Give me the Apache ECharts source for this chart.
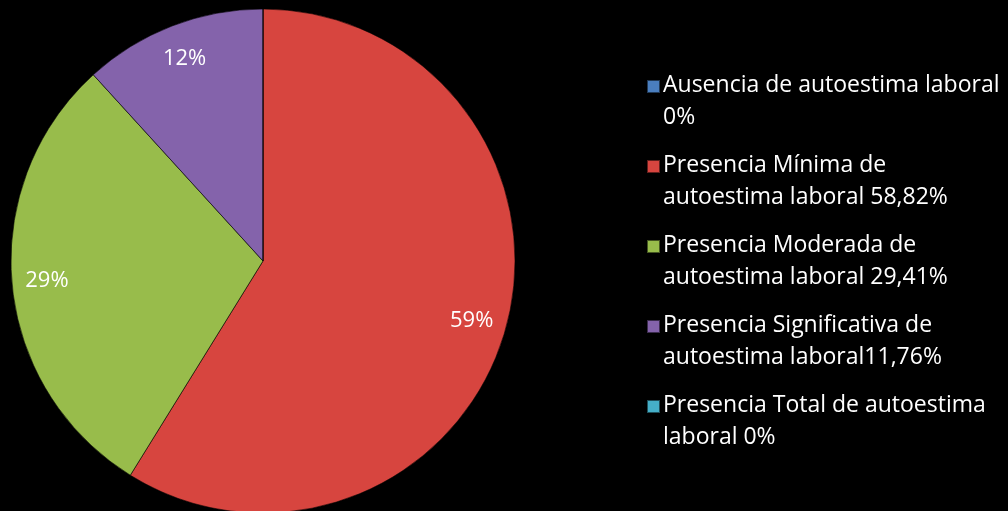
<!DOCTYPE html>
<html><head><meta charset="utf-8">
<script src="https://cdn.jsdelivr.net/npm/echarts@6/dist/echarts.min.js"></script>
<style>html,body{margin:0;padding:0;background:#000}#c{width:1008px;height:511px}</style>
</head><body><div id="c"></div>
<script>
const categories = [
  "Ausencia de autoestima laboral\n0%",
  "Presencia Mínima de\nautoestima laboral 58,82%",
  "Presencia Moderada de\nautoestima laboral 29,41%",
  "Presencia Significativa de\nautoestima laboral11,76%",
  "Presencia Total de autoestima\nlaboral 0%"
];
const values = [0, 58.82, 29.41, 11.76, 0];
const colors = ["#4A7EBF", "#D7453F", "#98BC4B", "#8463AB", "#45AFC8"];

const FONT = "Open Sans";
const data = categories.map((n, i) => ({ name: n, value: values[i], itemStyle: { color: colors[i] } }));
const labelData = categories.map((n, i) => ({ name: n, value: values[i] }));

const chart = echarts.init(document.getElementById('c'));
chart.setOption({
  backgroundColor: '#000',
  animation: false,
  legend: {
    orient: 'vertical',
    left: 641, top: 64,
    itemWidth: 13, itemHeight: 63, itemGap: 15,
    icon: 'path://M0,0L0.01,0 M0,10H13V23H0Z M0,63L0.01,63',
    textStyle: { color: '#fff', fontFamily: FONT, fontSize: 23, lineHeight: 31.5, padding: [0,0,0,-2] },
    data: categories
  },
  series: [
    {
      type: 'pie', center: [263, 261], radius: [0, 252], startAngle: 90,
      clockwise: true, silent: true,
      itemStyle: { borderColor: 'rgba(0,0,0,0.55)', borderWidth: 1 },
      label: { show: false }, labelLine: { show: false },
      data: data
    },
    {
      type: 'pie', center: [263, 261], radius: [176, 252], startAngle: 90,
      clockwise: true, silent: true,
      itemStyle: { color: 'rgba(0,0,0,0)' },
      label: {
        show: true, position: 'inside', color: '#fff', fontFamily: FONT, fontSize: 22,
        formatter: p => p.value > 0 ? Math.round(p.percent) + '%' : ''
      },
      labelLine: { show: false },
      data: labelData
    }
  ]
});
</script></body></html>
